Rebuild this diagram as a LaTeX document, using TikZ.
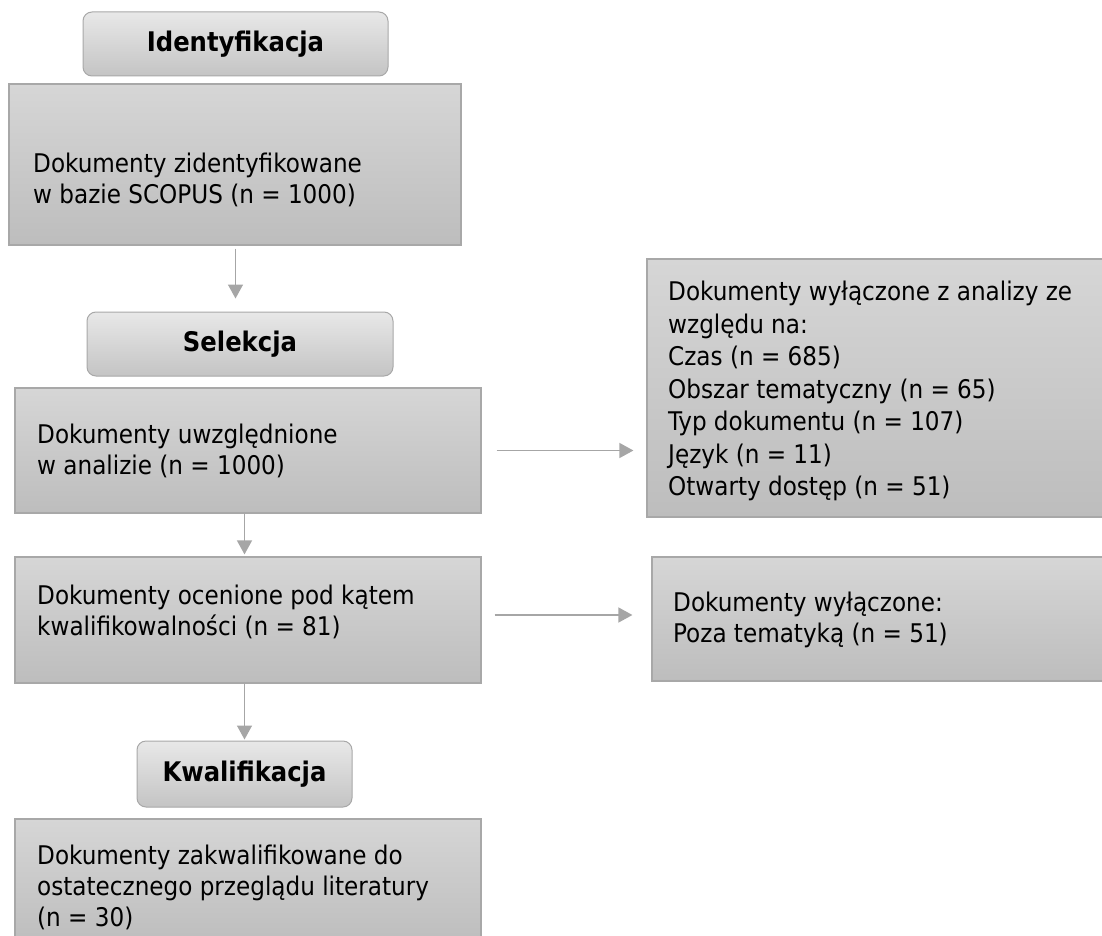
\documentclass[tikz,border=0pt]{standalone}
\usepackage{fontspec}
\setmainfont{DejaVu Sans Condensed}
\usetikzlibrary{arrows.meta}
\definecolor{bordc}{HTML}{A8A8A8}
\definecolor{boxtop}{HTML}{D6D6D6}
\definecolor{boxbot}{HTML}{BDBDBD}
\definecolor{hdtop}{HTML}{E8E8E8}
\definecolor{hdbot}{HTML}{C4C4C4}
\definecolor{arrc}{HTML}{A6A6A6}
\begin{document}
\begin{tikzpicture}[x=1pt,y=-1pt,
  box/.style={draw=bordc, line width=1.2pt, top color=boxtop, bottom color=boxbot, rectangle, inner sep=0pt},
  hdr/.style={draw=bordc, line width=1pt, top color=hdtop, bottom color=hdbot, rounded corners=9pt, inner sep=0pt, font=\fontsize{27}{30}\selectfont\bfseries},
  txt/.style={inner sep=0pt, anchor=west, align=left, font=\fontsize{25.7}{31}\selectfont},
  txtr/.style={txt, font=\fontsize{25.7}{32.5}\selectfont},
  arr/.style={draw=arrc, line width=1.5pt, -{Triangle[length=14pt,width=15pt]}}
]
\useasboundingbox (0,0) rectangle (1102,936);
\clip (0,0) rectangle (1102,936);

% header boxes
\node[hdr, minimum width=305pt, minimum height=64pt] (id) at (235.5,44) {Identyfikacja};
\node[hdr, minimum width=306pt, minimum height=64pt] (sel) at (240,344) {Selekcja};
\node[hdr, minimum width=215pt, minimum height=66pt] (kw) at (244.5,774) {Kwalifikacja};

% content boxes
\node[box, minimum width=452pt, minimum height=161pt] (b1) at (235,164.5) {};
\node[box, minimum width=466pt, minimum height=125pt] (b2) at (248,450.5) {};
\node[box, minimum width=466pt, minimum height=126pt] (b3) at (248,620) {};
\node[box, minimum width=466pt, minimum height=126pt] (b4) at (248,882) {};
\node[box, minimum width=463pt, minimum height=258pt] (e1) at (878.5,388) {};
\node[box, minimum width=458pt, minimum height=124pt] (e2) at (881,619) {};

% texts
\node[txt] (t1) at (33,180) {Dokumenty zidentyfikowane\\w bazie SCOPUS (n = 1000)};
\node[txt] (t2) at (37,451) {Dokumenty uwzględnione\\w analizie (n = 1000)};
\node[txt] (t3) at (37,612) {Dokumenty ocenione pod kątem\\kwalifikowalności (n = 81)};
\node[txt] (t4) at (37,887) {Dokumenty zakwalifikowane do\\ostatecznego przeglądu literatury\\(n = 30)};
\node[txtr] (t5) at (668,391) {Dokumenty wyłączone z analizy ze\\względu na:\\Czas (n = 685)\\Obszar tematyczny (n = 65)\\Typ dokumentu (n = 107)\\Język (n = 11)\\Otwarty dostęp (n = 51)};
\node[txt] (t6) at (673,620) {Dokumenty wyłączone:\\Poza tematyką (n = 51)};

% connectors
\draw[arr, shorten <=3pt, shorten >=13pt] (id.south |- b1.south) -- (id.south |- sel.north);
\draw[arr, shorten >=2pt] (kw.north |- b2.south) -- (kw.north |- b3.north);
\draw[arr, shorten >=1pt] (kw.north |- b3.south) -- (kw.north);
\draw[arr, shorten <=15pt, shorten >=13pt] (b2.east) -- (b2.east -| e1.west);
\path ([yshift=5pt]b3.east) coordinate (h2s);
\draw[arr, shorten <=13pt, shorten >=19pt] (h2s) -- (h2s -| e2.west);
\end{tikzpicture}
\end{document}
